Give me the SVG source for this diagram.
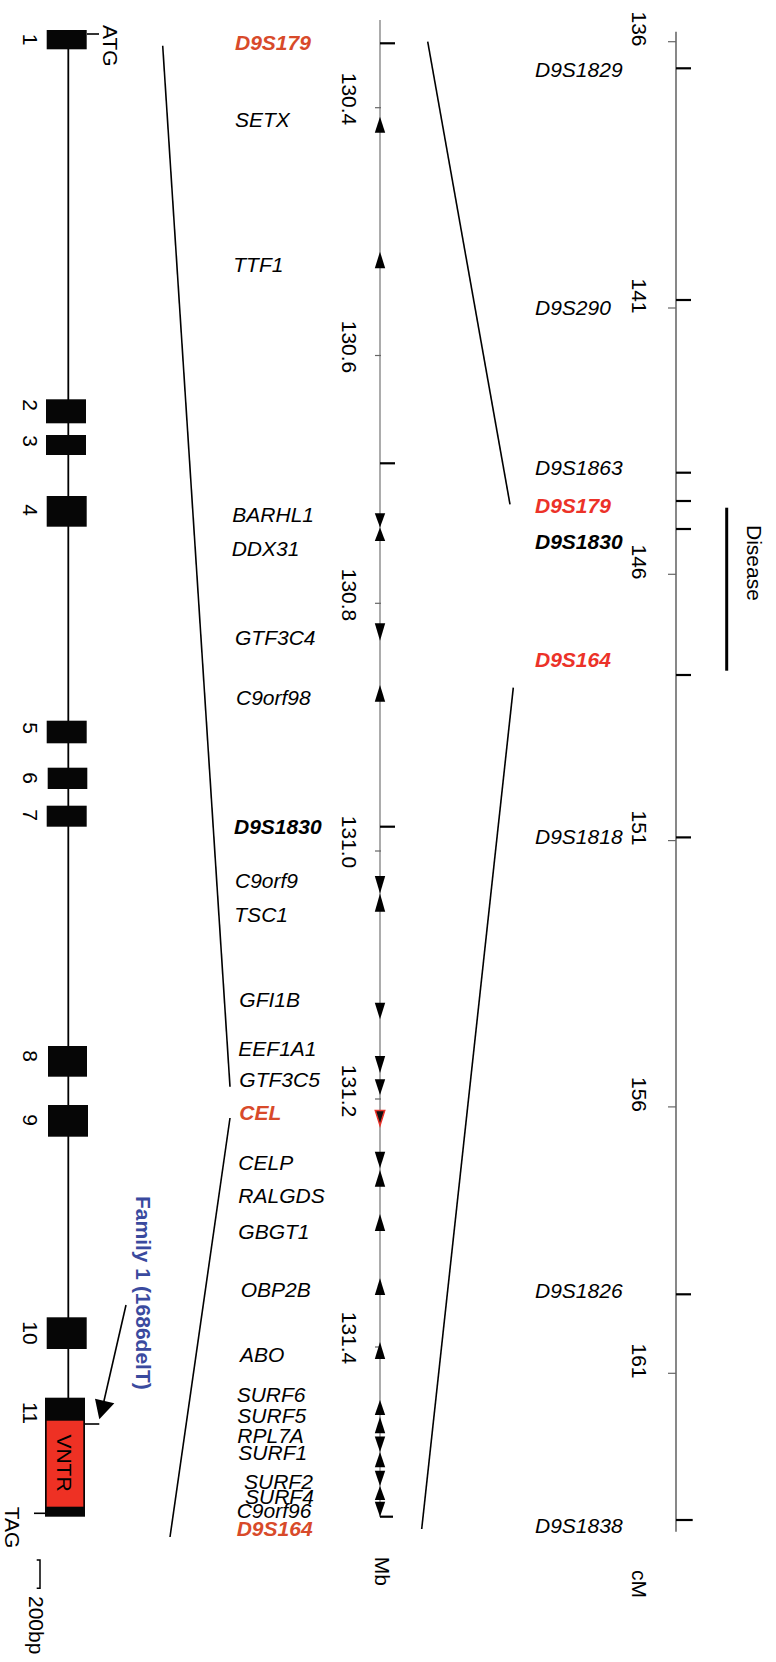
<svg xmlns="http://www.w3.org/2000/svg" width="776" height="1662" viewBox="0 0 776 1662">
<style>
text{font-family:"Liberation Sans",Arial,sans-serif;font-size:21px;fill:#000}
.g{font-style:italic}
.b{font-weight:bold}
.or{fill:#d84a2a}
.rd{fill:#ec3228}
.ex{fill:#060606}
.ax{stroke:#888;stroke-width:1.4;fill:none}
.cax{stroke:#555;stroke-width:1.4;fill:none}
.mt{stroke:#000;stroke-width:2.2}
.st{stroke:#666;stroke-width:1.2}
.ln{stroke:#000;stroke-width:1.6;fill:none}
.ar{fill:#000}
</style>
<defs>
<marker id="ah" viewBox="0 0 10 10" refX="9" refY="5" markerWidth="10" markerHeight="10" markerUnits="userSpaceOnUse" orient="auto"><path d="M0,0 L10,5 L0,10 z" fill="#000"/></marker>
</defs>

<!-- gene structure -->
<g id="gene">
<line x1="68.3" y1="40" x2="68.3" y2="1400" stroke="#000" stroke-width="1.8"/>
<line x1="87" y1="34" x2="99" y2="34" stroke="#000" stroke-width="1.6"/>
<text transform="translate(103,25) rotate(90)">ATG</text>
</g>
<g id="exon1"><rect class="ex" x="46.7" y="30" width="40" height="19.3"/><text transform="translate(23,39.5) rotate(90)" text-anchor="middle">1</text></g>
<g id="exon2"><rect class="ex" x="46" y="399.3" width="40" height="24"/><text transform="translate(23,405) rotate(90)" text-anchor="middle">2</text></g>
<g id="exon3"><rect class="ex" x="46" y="435" width="40" height="20"/><text transform="translate(23,441) rotate(90)" text-anchor="middle">3</text></g>
<g id="exon4"><rect class="ex" x="46.7" y="496" width="40" height="30.7"/><text transform="translate(23,510) rotate(90)" text-anchor="middle">4</text></g>
<g id="exon5"><rect class="ex" x="46.7" y="720.7" width="40" height="22.6"/><text transform="translate(23,728) rotate(90)" text-anchor="middle">5</text></g>
<g id="exon6"><rect class="ex" x="47.7" y="767.7" width="39.6" height="21.3"/><text transform="translate(23,778) rotate(90)" text-anchor="middle">6</text></g>
<g id="exon7"><rect class="ex" x="46.7" y="805.7" width="40" height="21"/><text transform="translate(23,815) rotate(90)" text-anchor="middle">7</text></g>
<g id="exon8"><rect class="ex" x="48" y="1046" width="39" height="30.7"/><text transform="translate(23,1056) rotate(90)" text-anchor="middle">8</text></g>
<g id="exon9"><rect class="ex" x="48" y="1105" width="40" height="31.7"/><text transform="translate(23,1120) rotate(90)" text-anchor="middle">9</text></g>
<g id="exon10"><rect class="ex" x="46.7" y="1317.3" width="40" height="31.7"/><text transform="translate(23,1333) rotate(90)" text-anchor="middle">10</text></g>
<g id="exon11">
<rect class="ex" x="45" y="1397.7" width="40" height="119"/>
<rect x="46.7" y="1420.7" width="36.6" height="86" fill="#ee3124"/>
<text transform="translate(57,1463) rotate(90)" text-anchor="middle">VNTR</text>
<text transform="translate(23,1413) rotate(90)" text-anchor="middle">11</text>
<line x1="85" y1="1424" x2="99.3" y2="1424" stroke="#000" stroke-width="1.6"/>
<line x1="34" y1="1513.3" x2="45" y2="1513.3" stroke="#000" stroke-width="1.6"/>
<text transform="translate(5,1506.7) rotate(90)">TAG</text>
</g>
<g id="scalebar">
<path d="M36.7,1560 H40 V1588.3 H36.7" stroke="#000" stroke-width="1.5" fill="none"/>
<text transform="translate(28.5,1596) rotate(90)">200bp</text>
</g>
<g id="family1">
<text class="b" transform="translate(136,1196) rotate(90)" style="fill:#3a4a9e">Family 1 (1686delT)</text>
</g>

<!-- Mb axis -->
<g id="mb-axis">
<line class="ax" x1="380" y1="20" x2="380" y2="1517"/>
<line class="st" x1="375" y1="107.7" x2="381" y2="107.7"/>
<line class="st" x1="375" y1="355.5" x2="381" y2="355.5"/>
<line class="st" x1="375" y1="603.3" x2="381" y2="603.3"/>
<line class="st" x1="375" y1="851" x2="381" y2="851"/>
<line class="st" x1="375" y1="1099" x2="381" y2="1099"/>
<line class="st" x1="375" y1="1347" x2="381" y2="1347"/>
<text transform="translate(341.5,99) rotate(90)" text-anchor="middle">130.4</text>
<text transform="translate(341.5,347) rotate(90)" text-anchor="middle">130.6</text>
<text transform="translate(341.5,595) rotate(90)" text-anchor="middle">130.8</text>
<text transform="translate(341.5,842) rotate(90)" text-anchor="middle">131.0</text>
<text transform="translate(341.5,1091) rotate(90)" text-anchor="middle">131.2</text>
<text transform="translate(341.5,1338) rotate(90)" text-anchor="middle">131.4</text>
<line class="mt" x1="380" y1="43.3" x2="395" y2="43.3"/>
<line class="mt" x1="380" y1="463.3" x2="395" y2="463.3"/>
<line class="mt" x1="380" y1="826.7" x2="395" y2="826.7"/>
<line class="mt" x1="380" y1="1516.7" x2="393" y2="1516.7"/>
<text transform="translate(375,1556.7) rotate(90)">Mb</text>
</g>

<!-- genes -->
<g id="g-D9S179"><text class="g b or" x="235" y="50">D9S179</text></g>
<g id="g-SETX"><text class="g" x="235" y="127.3">SETX</text><polygon class="ar" points="380,116.7 374.8,132.7 385.2,132.7"/></g>
<g id="g-TTF1"><text class="g" x="233.3" y="271.7">TTF1</text><polygon class="ar" points="380,251.7 374.8,268.3 385.2,268.3"/></g>
<g id="g-BARHL1"><text class="g" x="232.3" y="521.7">BARHL1</text><polygon class="ar" points="374.8,513.3 385.2,513.3 380,527.5"/></g>
<g id="g-DDX31"><text class="g" x="231.7" y="556">DDX31</text><polygon class="ar" points="380,527.5 374.8,541 385.2,541"/></g>
<g id="g-GTF3C4"><text class="g" x="235" y="645">GTF3C4</text><polygon class="ar" points="374.8,623.3 385.2,623.3 380,640.7"/></g>
<g id="g-C9orf98"><text class="g" x="236" y="705">C9orf98</text><polygon class="ar" points="380,685 374.8,701.7 385.2,701.7"/></g>
<g id="g-D9S1830"><text class="g b" x="234" y="834">D9S1830</text></g>
<g id="g-C9orf9"><text class="g" x="235" y="888.3">C9orf9</text><polygon class="ar" points="374.8,876 385.2,876 380,893.5"/></g>
<g id="g-TSC1"><text class="g" x="234.3" y="921.7">TSC1</text><polygon class="ar" points="380,893.5 374.8,911.7 385.2,911.7"/></g>
<g id="g-GFI1B"><text class="g" x="239.3" y="1006.7">GFI1B</text><polygon class="ar" points="374.8,1002.7 385.2,1002.7 380,1019.3"/></g>
<g id="g-EEF1A1"><text class="g" x="238.3" y="1056">EEF1A1</text><polygon class="ar" points="374.8,1056 385.2,1056 380,1073"/></g>
<g id="g-GTF3C5"><text class="g" x="239.3" y="1086.7">GTF3C5</text><polygon class="ar" points="374.8,1079.3 385.2,1079.3 380,1095"/></g>
<g id="g-CEL"><text class="g b or" x="239.3" y="1120">CEL</text><polygon points="375.3,1110.5 384.7,1110.5 380,1125.5" fill="#111" stroke="#e8322a" stroke-width="1.5"/></g>
<g id="g-CELP"><text class="g" x="238.3" y="1170">CELP</text><polygon class="ar" points="374.8,1151.7 385.2,1151.7 380,1168.3"/></g>
<g id="g-RALGDS"><text class="g" x="238.3" y="1202.7">RALGDS</text><polygon class="ar" points="380,1170 374.8,1186.7 385.2,1186.7"/></g>
<g id="g-GBGT1"><text class="g" x="238.3" y="1239.3">GBGT1</text><polygon class="ar" points="380,1214 374.8,1231 385.2,1231"/></g>
<g id="g-OBP2B"><text class="g" x="240.7" y="1296.7">OBP2B</text><polygon class="ar" points="380,1278.3 374.8,1295 385.2,1295"/></g>
<g id="g-ABO"><text class="g" x="240" y="1361.7">ABO</text><polygon class="ar" points="380,1342 374.8,1359 385.2,1359"/></g>
<g id="g-SURF6"><text class="g" x="236.7" y="1401.7">SURF6</text><polygon class="ar" points="380,1400 374.8,1415 385.2,1415"/></g>
<g id="g-SURF5"><text class="g" x="237.3" y="1423.3">SURF5</text><polygon class="ar" points="380,1416.7 374.8,1433.3 385.2,1433.3"/></g>
<g id="g-RPL7A"><text class="g" x="237.3" y="1443.3">RPL7A</text><polygon class="ar" points="374.8,1436.5 385.2,1436.5 380,1452"/></g>
<g id="g-SURF1"><text class="g" x="238.3" y="1460">SURF1</text><polygon class="ar" points="380,1452 374.8,1467.3 385.2,1467.3"/></g>
<g id="g-SURF2"><text class="g" x="244" y="1489.3">SURF2</text><polygon class="ar" points="374.8,1470.7 385.2,1470.7 380,1486"/></g>
<g id="g-SURF4"><text class="g" x="245" y="1504">SURF4</text><polygon class="ar" points="380,1486 374.8,1500 385.2,1500"/></g>
<g id="g-C9orf96"><text class="g" x="236.7" y="1518.3">C9orf96</text><polygon class="ar" points="374.8,1501.7 385.2,1501.7 380,1516.7"/></g>
<g id="g-D9S164"><text class="g b or" x="236.7" y="1536">D9S164</text></g>

<!-- cM axis -->
<g id="cm-axis">
<line class="cax" x1="676" y1="31.7" x2="676" y2="1531.7"/>
<line class="st" x1="668" y1="41.7" x2="676" y2="41.7"/>
<line class="st" x1="668" y1="308" x2="676" y2="308"/>
<line class="st" x1="668" y1="574.3" x2="676" y2="574.3"/>
<line class="st" x1="668" y1="840.6" x2="676" y2="840.6"/>
<line class="st" x1="668" y1="1106.9" x2="676" y2="1106.9"/>
<line class="st" x1="668" y1="1373.3" x2="676" y2="1373.3"/>
<text transform="translate(632,29) rotate(90)" text-anchor="middle">136</text>
<text transform="translate(632,296) rotate(90)" text-anchor="middle">141</text>
<text transform="translate(632,562) rotate(90)" text-anchor="middle">146</text>
<text transform="translate(632,828) rotate(90)" text-anchor="middle">151</text>
<text transform="translate(632,1094.5) rotate(90)" text-anchor="middle">156</text>
<text transform="translate(632,1361) rotate(90)" text-anchor="middle">161</text>
<text transform="translate(632,1570) rotate(90)">cM</text>
</g>
<g id="m-D9S1829"><text class="g" x="535" y="77">D9S1829</text><line class="mt" x1="676" y1="68.3" x2="691" y2="68.3"/></g>
<g id="m-D9S290"><text class="g" x="535" y="315">D9S290</text><line class="mt" x1="676" y1="300" x2="691" y2="300"/></g>
<g id="m-D9S1863"><text class="g" x="535" y="475">D9S1863</text><line class="mt" x1="676" y1="472.7" x2="691" y2="472.7"/></g>
<g id="m-D9S179"><text class="g b rd" x="535" y="512.7">D9S179</text><line class="mt" x1="676" y1="501" x2="691" y2="501"/></g>
<g id="m-D9S1830"><text class="g b" x="535" y="549.3">D9S1830</text><line class="mt" x1="676" y1="529" x2="691" y2="529"/></g>
<g id="m-D9S164"><text class="g b rd" x="535" y="666.7">D9S164</text><line class="mt" x1="676" y1="675" x2="691" y2="675"/></g>
<g id="m-D9S1818"><text class="g" x="535" y="844">D9S1818</text><line class="mt" x1="676" y1="837.4" x2="691" y2="837.4"/></g>
<g id="m-D9S1826"><text class="g" x="535" y="1298">D9S1826</text><line class="mt" x1="676" y1="1294.3" x2="691" y2="1294.3"/></g>
<g id="m-D9S1838"><text class="g" x="535" y="1533">D9S1838</text><line class="mt" x1="676" y1="1520" x2="692.7" y2="1520"/></g>
<g id="disease">
<line x1="726.7" y1="507.7" x2="726.7" y2="670.7" stroke="#000" stroke-width="3"/>
<text transform="translate(746.5,525) rotate(90)">Disease</text>
</g>

<!-- connectors -->
<g id="connectors">
<line class="ln" x1="162.7" y1="45.7" x2="230" y2="1086.7"/>
<line class="ln" x1="230" y1="1118" x2="170" y2="1537"/>
<line class="ln" x1="427.7" y1="41.7" x2="510" y2="504.3"/>
<line class="ln" x1="513.3" y1="687.7" x2="421.7" y2="1529"/>
<line x1="126" y1="1305" x2="103.5" y2="1403" stroke="#000" stroke-width="1.6"/>
<polygon points="95,1398.7 114.3,1403.3 99.3,1419.3" fill="#000"/>
</g>
</svg>
